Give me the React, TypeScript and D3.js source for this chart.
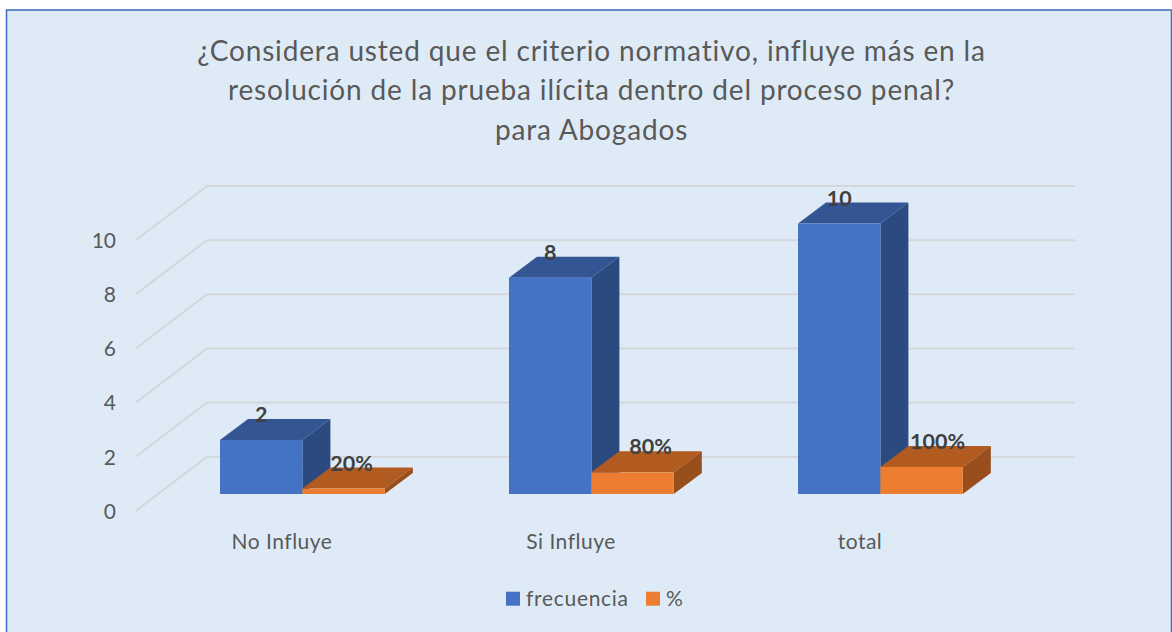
import React from "react";
import * as d3 from "d3";

const titleLines = [
  "¿Considera usted que el criterio normativo, influye más en la",
  "resolución de la prueba ilícita dentro del proceso penal?",
  "para Abogados",
];
const categories = ["No Influye", "Si Influye", "total"];
const frecuencia = [2, 8, 10];
const porcentaje = [0.2, 0.8, 1];
const frecuenciaLabels = ["2", "8", "10"];
const porcentajeLabels = ["20%", "80%", "100%"];
const yTicks = [0, 2, 4, 6, 8, 10];
const legendNames = ["frecuencia", "%"];
// per-label horizontal nudges of the orange series' labels
const pctNudge = [8, 18, 16];

const FONT = "Lato, Carlito, 'Open Sans', sans-serif";
const DX = 28;
const DY = -21;
const C = {
  bg: "#deebf7",
  border: "#4472c4",
  grid: "#d3d7da",
  text: "#595959",
  label: "#404040",
  blue: ["#4472c4", "#335593", "#2a4a80"],
  orange: ["#ed7d31", "#b25b20", "#994f1b"],
};

function Bar3D({ x, w, y0, y1, col }: { x: number; w: number; y0: number; y1: number; col: string[] }) {
  const p = (pts: number[][]) => pts.map((q) => q.join(",")).join(" ");
  return (
    <g>
      <polygon points={p([[x, y1], [x + DX, y1 + DY], [x + w + DX, y1 + DY], [x + w, y1]])} fill={col[1]} />
      <polygon points={p([[x + w, y1], [x + w + DX, y1 + DY], [x + w + DX, y0 + DY], [x + w, y0]])} fill={col[2]} />
      <rect x={x} y={y1} width={w} height={y0 - y1} fill={col[0]} />
    </g>
  );
}

export default function App() {
  const y = d3.scaleLinear().domain([0, 10]).range([494, 223.6]);
  const x = d3.scaleBand<string>().domain(categories).range([220 - 62, 220 - 62 + 289 * 3]).paddingInner(0).paddingOuter(0);
  const barW = 82.4;
  const groupStart = (c: string) => (x(c) as number) + 62;
  const gridY = d3.scaleLinear().domain([0, 10]).range([510.7, 240]);
  const gridDX = 71;
  const gridDY = -54;

  return (
    <svg
      width={1172}
      height={632}
      style={{ position: "absolute", left: 0, top: 0, display: "block", fontFamily: FONT }}
    >
      <rect x={0} y={0} width={1172} height={632} fill="#ffffff" />
      <rect x={6.5} y={10} width={1165} height={630} fill={C.bg} stroke={C.border} strokeWidth={1.6} />

      {titleLines.map((t, i) => (
        <text key={t} x={591.5} y={60.5 + i * 39.5} textAnchor="middle" fontSize={28} letterSpacing={0.84} fill={C.text}>
          {t}
        </text>
      ))}

      {yTicks.map((t) => (
        <g key={t}>
          <polyline
            points={`${136},${gridY(t)} ${136 + gridDX},${gridY(t) + gridDY} 1075,${gridY(t) + gridDY}`}
            fill="none"
            stroke={C.grid}
            strokeWidth={2}
          />
          <text x={116} y={gridY(t) + 8} textAnchor="end" fontSize={21} fill={C.text}>
            {t}
          </text>
        </g>
      ))}

      {categories.map((c, i) => (
        <g key={c}>
          <Bar3D x={groupStart(c)} w={barW} y0={y(0)} y1={y(frecuencia[i])} col={C.blue} />
          <Bar3D x={groupStart(c) + barW} w={barW} y0={y(0)} y1={y(porcentaje[i])} col={C.orange} />
        </g>
      ))}

      {categories.map((c, i) => (
        <g key={c} fontSize={21.5} fontWeight={700} fill={C.label} textAnchor="middle">
          <text x={groupStart(c) + barW / 2} y={y(frecuencia[i]) - 18}>
            {frecuenciaLabels[i]}
          </text>
          <text x={groupStart(c) + barW * 1.5 + pctNudge[i]} y={y(porcentaje[i]) - 18}>
            {porcentajeLabels[i]}
          </text>
        </g>
      ))}

      {categories.map((c) => (
        <text key={c} x={groupStart(c) + 62} y={549} textAnchor="middle" fontSize={21} letterSpacing={0.5} fill={C.text}>
          {c}
        </text>
      ))}

      <rect x={506} y={591.7} width={14} height={14} fill={C.blue[0]} />
      <text x={526} y={606} fontSize={21} letterSpacing={0.7} fill={C.text}>
        {legendNames[0]}
      </text>
      <rect x={646} y={591.7} width={14} height={14} fill={C.orange[0]} />
      <text x={666} y={606} fontSize={21} fill={C.text}>
        {legendNames[1]}
      </text>
    </svg>
  );
}
